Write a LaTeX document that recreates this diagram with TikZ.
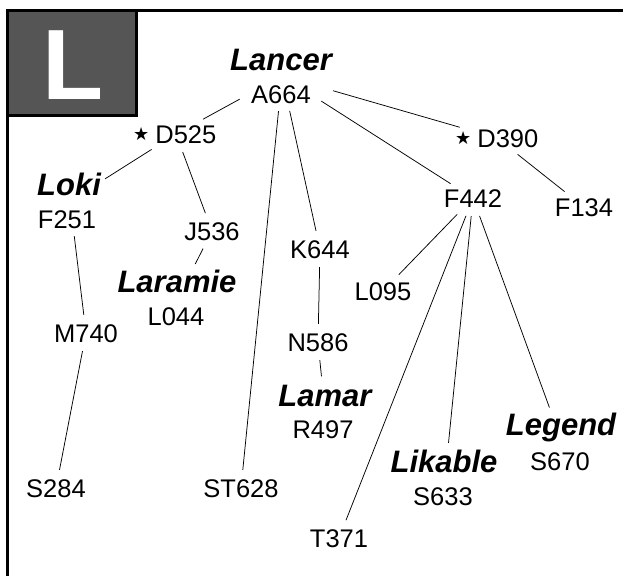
\documentclass[tikz,border=0pt]{standalone}
\usepackage{fontspec}
\setmainfont{Liberation Sans}
\newfontfamily\starfont{DejaVu Sans}
\usetikzlibrary{shapes.geometric}
\definecolor{boxgray}{RGB}{85,85,85}
\newcommand\starmark{{\starfont\fontsize{18}{18}\selectfont\raisebox{2.5pt}{★}}}
\begin{document}
\begin{tikzpicture}[x=1pt,y=-1pt,
  idtxt/.style={font=\fontsize{25.5}{30}\selectfont, inner sep=0pt, anchor=base},
  nametxt/.style={font=\fontsize{31}{36}\selectfont\bfseries\itshape, inner sep=0pt, anchor=base},
  hub/.style={ellipse, draw=none, inner sep=0pt, minimum height=36pt},
  hubtwo/.style={ellipse, draw=none, inner sep=0pt, minimum height=70pt},
  link/.style={line width=0.75pt, black},
  frameline/.style={line width=3pt, black}]
\useasboundingbox (0,0) rectangle (623,576);
\fill[white] (0,0) rectangle (623,576);
% frame and title box
\draw[frameline] (7.5,9) -- (7.5,576);
\draw[frameline] (6,10.5) -- (623,10.5);
\filldraw[fill=boxgray, draw=black, line width=3pt] (7.5,10.5) rectangle (136.3,115);
\node[font=\fontsize{100}{100}\selectfont\bfseries, text=white, inner sep=0pt, anchor=base] (bigL) at (73.4,99) {L};

% connector hubs (invisible ellipses)
\node[hubtwo, minimum width=112pt] (lancer) at (282,76) {};
\node[hub, minimum width=92pt] (d525) at (176,134) {};
\node[hub, minimum width=92pt] (d390) at (497,138) {};
\node[hubtwo, minimum width=90pt] (loki) at (70,201) {};
\node[hub, minimum width=70pt] (j536) at (212,231) {};
\node[hubtwo, minimum width=132pt] (laramie) at (178,298) {};
\node[hub, minimum width=76pt] (m740) at (86,333) {};
\node[hub, minimum width=74pt] (k644) at (320,249) {};
\node[hub, minimum width=74pt] (n586) at (318,342) {};
\node[hubtwo, minimum width=108pt] (lamar) at (325,411.5) {};
\node[hub, minimum width=72pt] (l095) at (383,291) {};
\node[hub, minimum width=72pt] (f442) at (473,198) {};
\node[hub, minimum width=72pt] (f134) at (584,207) {};
\node[hub, minimum width=88pt] (st628) at (241,488) {};
\node[hub, minimum width=72pt] (s284) at (56,488) {};
\node[hub, minimum width=72pt] (t371) at (339,538) {};
\node[hubtwo, minimum width=122pt] (likable) at (445,478) {};
\node[hubtwo, minimum width=122pt] (legend) at (562,442) {};

% texts
\node[nametxt] (lancerN) at (281,70) {Lancer};
\node[idtxt] (lancerI) at (281,103) {A664};
\node[idtxt, anchor=base east] (d525T) at (216.5,143) {\starmark\hspace{6pt}D525};
\node[idtxt, anchor=base east] (d390T) at (538.5,147) {\starmark\hspace{6pt}D390};
\node[nametxt] (lokiN) at (69,195) {Loki};
\node[idtxt] (lokiI) at (67,228) {F251};
\node[idtxt] (j536T) at (212,240) {J536};
\node[nametxt] (laramieN) at (177,292) {Laramie};
\node[idtxt] (laramieI) at (176,325) {L044};
\node[idtxt] (m740T) at (86,342) {M740};
\node[idtxt] (k644T) at (320,258) {K644};
\node[idtxt] (n586T) at (318,351) {N586};
\node[nametxt] (lamarN) at (325,406) {Lamar};
\node[idtxt] (lamarI) at (323,438) {R497};
\node[idtxt] (l095T) at (383,300) {L095};
\node[idtxt] (f442T) at (473,207) {F442};
\node[idtxt] (f134T) at (584,216) {F134};
\node[idtxt] (st628T) at (241,497) {ST628};
\node[idtxt] (s284T) at (56,497) {S284};
\node[idtxt] (t371T) at (339,547) {T371};
\node[nametxt] (likableN) at (444,472) {Likable};
\node[idtxt] (likableI) at (443,505) {S633};
\node[nametxt] (legendN) at (561,435) {Legend};
\node[idtxt] (legendI) at (560,470) {S670};

% connectors
\draw[link] (lancer) -- (d525);
\draw[link] (lancer) -- (st628);
\draw[link] (lancer) -- (k644);
\draw[link] (lancer) -- (f442);
\draw[link] (lancer) -- (d390);
\draw[link] (d525) -- (loki);
\draw[link] (d525) -- (j536);
\draw[link] (j536) -- (laramie);
\draw[link] (loki) -- (m740);
\draw[link] (m740) -- (s284);
\draw[link] (k644) -- (n586);
\draw[link] (n586) -- (lamar);
\draw[link] (d390) -- (f134);
\draw[link] (f442) -- (l095);
\draw[link] (f442) -- (t371);
\draw[link] (f442) -- (likable);
\draw[link] (f442) -- (legend);
\end{tikzpicture}
\end{document}
